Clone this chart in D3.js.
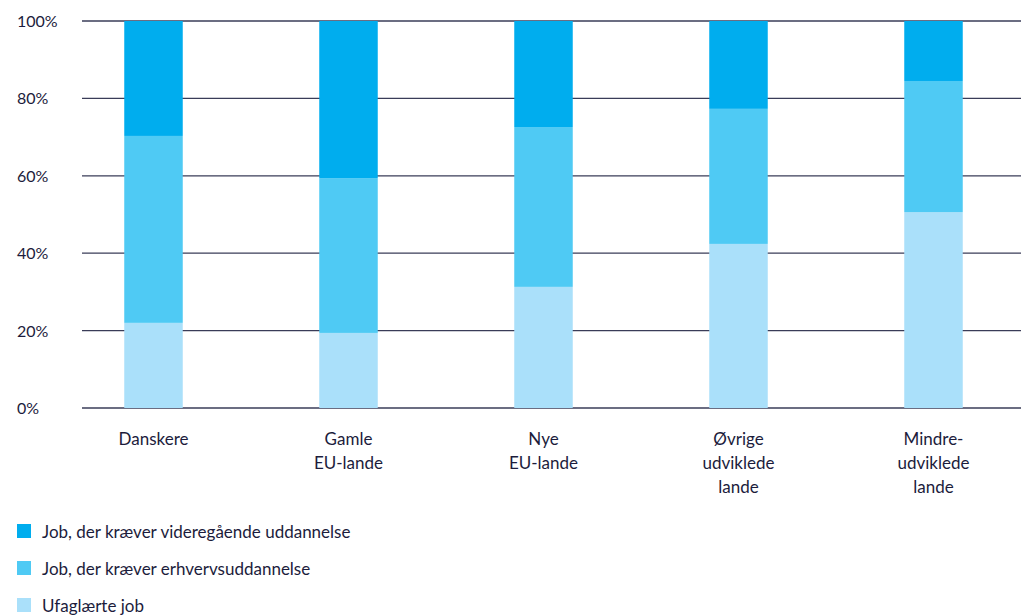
<!DOCTYPE html>
<html>
<head>
<meta charset="utf-8">
<script src="https://cdn.jsdelivr.net/npm/d3@7"></script>
<style>
  body { margin: 0; background: #fff; }
  text { font-family: Lato, "Open Sans", sans-serif; fill: #1c1c3c; }
</style>
</head>
<body>
<div id="chart"></div>
<script>
// kategorier og serier (andele i %)
var categories = [["Danskere"], ["Gamle", "EU-lande"], ["Nye", "EU-lande"],
	["Øvrige", "udviklede", "lande"], ["Mindre-", "udviklede", "lande"]];
var seriesNames = ["Ufaglærte job", "Job, der kræver erhvervsuddannelse",
	"Job, der kræver videregående uddannelse"];
var ufaglaerte = [22.0, 19.4, 31.3, 42.4, 50.6];
var erhverv = [48.3, 40.0, 41.3, 34.9, 33.9];
var videregaaende = [29.7, 40.6, 27.4, 22.7, 15.5];
var yTicks = [0, 20, 40, 60, 80, 100];
var colors = ["#aae0fa", "#4fcaf4", "#00adee"];

var W = 1021, H = 616;
var svg = d3.select("#chart").append("svg").attr("width", W).attr("height", H);

var y = d3.scaleLinear().domain([0, 100]).range([408, 21]);
var x = d3.scaleBand().domain(d3.range(categories.length))
	.range([56, 1031]).paddingInner(0.7).paddingOuter(0.35);

// gitterlinjer
svg.selectAll(".grid").data(yTicks).enter().append("line")
	.attr("x1", 82).attr("x2", W)
	.attr("y1", function(d) { return y(d); }).attr("y2", function(d) { return y(d); })
	.attr("stroke", "#3a3c58").attr("stroke-width", 1.3);

svg.selectAll(".ytick").data(yTicks).enter().append("text")
	.attr("x", 17).attr("y", function(d) { return y(d) + 6; })
	.attr("font-size", 16).text(function(d) { return d + "%"; });

// stablede søjler
var rows = categories.map(function(c, i) {
	return { s0: ufaglaerte[i], s1: erhverv[i], s2: videregaaende[i] };
});
var stack = d3.stack().keys(["s0", "s1", "s2"])(rows);

svg.selectAll(".serie").data(stack).enter().append("g")
	.attr("fill", function(d, i) { return colors[i]; })
	.selectAll("rect").data(function(d) { return d; }).enter().append("rect")
	.attr("x", function(d, i) { return x(i); })
	.attr("width", x.bandwidth())
	.attr("y", function(d) { return y(d[1]); })
	.attr("height", function(d) { return y(d[0]) - y(d[1]); });

// kategorietiketter
svg.selectAll(".cat").data(categories).enter().append("text")
	.attr("text-anchor", "middle").attr("font-size", 17)
	.attr("transform", function(d, i) {
		return "translate(" + (x(i) + x.bandwidth() / 2) + ",445)";
	})
	.selectAll("tspan").data(function(d) { return d; }).enter().append("tspan")
	.attr("x", 0).attr("dy", function(d, j) { return j ? 24 : 0; })
	.text(function(d) { return d; });

// forklaring
var legendOrder = [2, 1, 0];
var lg = svg.selectAll(".legend").data(legendOrder).enter().append("g")
	.attr("transform", function(d, k) { return "translate(17," + (524 + k * 37) + ")"; });
lg.append("rect").attr("width", 14).attr("height", 14)
	.attr("fill", function(d) { return colors[d]; });
lg.append("text").attr("x", 25).attr("y", 14).attr("font-size", 17)
	.text(function(d) { return seriesNames[d]; });
</script>
</body>
</html>
